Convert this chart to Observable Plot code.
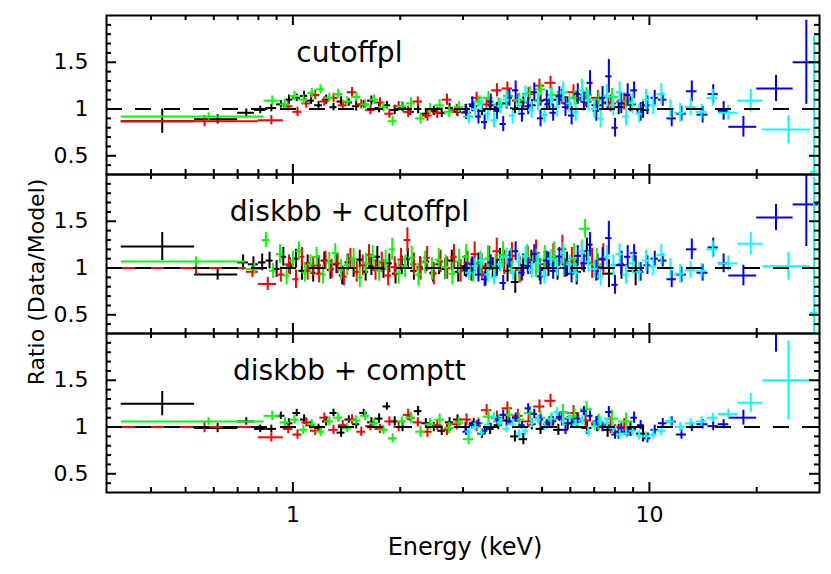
<!DOCTYPE html>
<html><head><meta charset="utf-8">
<script src="https://cdn.jsdelivr.net/npm/d3@7"></script>
<script src="https://cdn.jsdelivr.net/npm/@observablehq/plot@0.6"></script>
<style>
html,body{margin:0;padding:0;background:#fff;}
</style></head><body><div id="chart"></div>
<script>
// ---------- Panels and ticks ----------
const panels = ["cutoffpl", "diskbb + cutoffpl", "diskbb + comptt"];
const xTickLabels = [1, 10];
const xMinorTicks = [0.4, 0.5, 0.6, 0.7, 0.8, 0.9, 2, 3, 4, 5, 6, 7, 8, 9, 20];
const yTickLabels = [0.5, 1, 1.5];
const yMinorTicks = [0.4, 0.6, 0.7, 0.8, 0.9, 1.1, 1.2, 1.3, 1.4, 1.6, 1.7, 1.8, 1.9];

// ---------- Black (EPIC-pn) ----------
const blackEdgesA = [0.33, 0.53, 0.70, 0.78, 0.84, 0.90, 0.95, 1.00, 1.05, 1.10, 1.15, 1.21, 1.27, 1.33, 1.40, 1.47, 1.54, 1.62, 1.70, 1.79, 1.88, 1.98, 2.08, 2.19, 2.30, 2.42, 2.55, 2.68, 2.82, 2.97, 3.13, 3.30, 3.48, 3.67, 3.87, 4.08, 4.31, 4.55, 4.81, 5.09, 5.39, 5.72, 6.08, 6.47, 6.90, 7.37, 7.90, 8.50, 9.20, 10.0];
const blackR1 = [0.87, 0.89, 0.96, 0.99, 1.01, 1.05, 1.10, 1.12, 1.14, 1.09,
  1.04, 1.10, 1.02, 1.08, 1.07, 1.03, 1.05, 1.09, 1.01, 1.04,
  0.99, 1.02, 0.97, 1.00, 0.95, 0.98, 0.96, 1.01, 0.97, 1.00,
  1.03, 0.98, 1.04, 1.02, 1.06, 1.01, 1.07, 1.04, 1.09, 1.05,
  1.10, 1.06, 1.12, 1.08, 1.04, 1.07, 1.02, 1.05, 0.99];
const blackR3 = [1.25, 0.99, 1.06, 0.98, 0.98, 1.12, 1.04, 1.15, 1.08, 1.02,
  0.99, 1.06, 1.15, 0.94, 1.08, 1.03, 1.15, 1.05, 1.09, 1.22,
  1.06, 1.00, 1.10, 1.17, 1.04, 1.00, 0.96, 1.05, 1.08, 1.00,
  1.04, 0.93, 0.98, 1.02, 1.07, 0.90, 0.87, 1.03, 0.98, 1.05,
  0.97, 1.04, 1.06, 0.99, 1.02, 0.97, 0.95, 0.98, 0.93];
const blackErrA = [0.13, 0.05, 0.04, 0.04, 0.04, 0.04, 0.05, 0.04, 0.05, 0.04,
  0.04, 0.05, 0.04, 0.05, 0.04, 0.05, 0.04, 0.05, 0.05, 0.04,
  0.05, 0.05, 0.04, 0.05, 0.05, 0.05, 0.05, 0.05, 0.05, 0.05,
  0.05, 0.05, 0.06, 0.05, 0.06, 0.06, 0.06, 0.06, 0.06, 0.06,
  0.06, 0.07, 0.07, 0.07, 0.07, 0.08, 0.08, 0.08, 0.09];
const blackEdgesB = [0.33, 0.53, 0.70, 0.75, 0.80, 0.84, 0.88, 0.92, 0.96, 1.00, 1.04, 1.08, 1.12, 1.16, 1.20, 1.25, 1.30, 1.35, 1.40, 1.45, 1.51, 1.57, 1.63, 1.69, 1.76, 1.83, 1.90, 1.98, 2.06, 2.14, 2.23, 2.32, 2.42, 2.52, 2.62, 2.73, 2.85, 2.97, 3.10, 3.24, 3.39, 3.55, 3.72, 3.90, 4.10, 4.31, 4.54, 4.79, 5.06, 5.36, 5.69, 6.05, 6.45, 6.90, 7.40, 8.00, 8.70, 9.60];
const blackR2 = [1.23, 0.93, 1.06, 1.04, 1.06, 1.08, 0.99, 1.12, 1.02, 1.10,
  0.97, 1.05, 0.95, 1.03, 1.08, 0.98, 1.04, 0.92, 1.06, 1.00,
  1.09, 0.96, 1.02, 1.12, 0.99, 1.05, 0.94, 1.03, 1.10, 0.97,
  1.01, 1.07, 0.95, 1.04, 0.99, 1.08, 0.96, 1.02, 0.98, 1.05,
  0.93, 1.00, 1.09, 0.97, 0.85, 1.03, 1.06, 0.98, 1.04, 1.00,
  1.04, 0.96, 1.18, 1.01, 0.94, 1.03, 0.97];
const blackErrB = [0.15, 0.06, 0.08, 0.08, 0.09, 0.09, 0.09, 0.10, 0.09, 0.10,
  0.10, 0.09, 0.10, 0.10, 0.09, 0.10, 0.10, 0.10, 0.09, 0.10,
  0.10, 0.10, 0.10, 0.11, 0.10, 0.10, 0.11, 0.10, 0.11, 0.10,
  0.11, 0.11, 0.10, 0.11, 0.11, 0.11, 0.11, 0.11, 0.12, 0.11,
  0.12, 0.11, 0.12, 0.12, 0.12, 0.12, 0.13, 0.12, 0.13, 0.13,
  0.13, 0.14, 0.14, 0.14, 0.15, 0.15, 0.16];

// ---------- Red (MOS1) ----------
const redEdgesA = [0.33, 0.80, 0.94, 1.00, 1.06, 1.12, 1.19, 1.26, 1.34, 1.42, 1.51, 1.60, 1.70, 1.81, 1.92, 2.04, 2.17, 2.31, 2.46, 2.62, 2.79, 2.97, 3.17, 3.38, 3.61, 3.86, 4.13, 4.42, 4.74, 5.09, 5.47, 5.89, 6.36, 6.88, 7.46, 8.10, 8.90];
const redR1 = [0.87, 0.88, 1.03, 0.97, 1.06, 1.15, 1.08, 1.12, 1.04, 1.18,
  1.05, 0.99, 1.07, 0.95, 1.03, 0.97, 1.08, 0.93, 0.96, 1.10,
  0.99, 0.96, 1.12, 1.05, 1.20, 1.22, 1.09, 1.16, 1.25, 1.28,
  1.13, 1.18, 1.10, 1.12, 1.06, 1.08];
const redR3 = [1.00, 0.89, 0.98, 0.92, 1.05, 0.96, 1.10, 0.97, 1.02, 1.08,
  0.95, 1.01, 0.98, 1.06, 1.00, 1.13, 1.05, 0.95, 1.02, 0.97,
  1.03, 1.08, 1.01, 1.18, 1.10, 1.20, 1.12, 1.06, 1.22, 1.28,
  1.09, 1.15, 1.07, 1.04, 1.02, 1.00];
const redErrA = [0.06, 0.05, 0.05, 0.05, 0.05, 0.05, 0.05, 0.05, 0.05, 0.05,
  0.05, 0.05, 0.05, 0.05, 0.05, 0.06, 0.05, 0.06, 0.06, 0.06,
  0.06, 0.06, 0.06, 0.06, 0.07, 0.07, 0.07, 0.07, 0.07, 0.07,
  0.08, 0.08, 0.08, 0.08, 0.09, 0.09];
const redEdgesB = [0.33, 0.74, 0.80, 0.90, 0.95, 1.00, 1.04, 1.08, 1.12, 1.16, 1.21, 1.26, 1.31, 1.36, 1.42, 1.48, 1.54, 1.60, 1.67, 1.74, 1.81, 1.89, 1.97, 2.05, 2.14, 2.23, 2.33, 2.43, 2.54, 2.65, 2.77, 2.89, 3.02, 3.16, 3.31, 3.47, 3.64, 3.82, 4.01, 4.22, 4.44, 4.68, 4.94, 5.22, 5.53, 5.87, 6.25, 6.67, 7.15, 7.70];
const redR2 = [1.00, 0.96, 0.83, 0.93, 1.04, 0.88, 1.12, 0.97, 1.02, 0.94,
  1.08, 0.99, 1.05, 0.91, 1.10, 0.96, 1.03, 1.14, 0.98, 1.06,
  0.92, 1.01, 1.09, 1.30, 1.04, 0.99, 1.11, 0.94, 1.07, 1.00,
  1.12, 0.97, 1.05, 1.15, 1.02, 1.10, 1.18, 1.06, 1.13, 0.98,
  1.09, 1.16, 1.04, 1.11, 1.20, 1.07, 1.13, 1.05, 1.09];
const redErrB = [0.07, 0.06, 0.07, 0.08, 0.10, 0.10, 0.10, 0.10, 0.10, 0.10,
  0.10, 0.10, 0.11, 0.10, 0.11, 0.11, 0.11, 0.11, 0.11, 0.11,
  0.11, 0.11, 0.12, 0.13, 0.12, 0.12, 0.12, 0.12, 0.12, 0.12,
  0.13, 0.12, 0.13, 0.13, 0.13, 0.13, 0.14, 0.13, 0.14, 0.14,
  0.14, 0.14, 0.14, 0.15, 0.15, 0.15, 0.16, 0.16, 0.17];

// ---------- Green (MOS2) ----------
const greenEdgesA = [0.33, 0.83, 0.92, 0.98, 1.04, 1.10, 1.16, 1.23, 1.30, 1.38, 1.46, 1.55, 1.64, 1.74, 1.85, 1.96, 2.08, 2.21, 2.35, 2.50, 2.66, 2.83, 3.01, 3.21, 3.42, 3.65, 3.90, 4.17, 4.46, 4.78, 5.13, 5.51, 5.93, 6.40, 6.92, 7.50, 8.20, 9.00];
const greenR1 = [0.92, 1.09, 1.05, 1.14, 1.10, 1.17, 1.21, 1.12, 1.16, 1.08,
  1.13, 1.05, 1.10, 1.02, 0.87, 1.03, 1.06, 0.90, 1.00, 1.04,
  0.97, 1.02, 0.92, 1.08, 1.12, 1.05, 1.14, 1.10, 1.17, 1.21,
  1.15, 1.18, 1.12, 1.15, 1.10, 1.13, 1.08];
const greenR3 = [1.06, 1.12, 1.05, 1.08, 0.97, 1.03, 0.95, 1.06, 1.10, 0.99,
  1.07, 1.12, 1.04, 0.97, 0.88, 1.06, 1.10, 0.95, 1.03, 1.08,
  0.99, 1.05, 0.87, 1.04, 1.11, 1.06, 1.13, 1.08, 1.15, 1.10,
  1.07, 1.16, 1.12, 1.19, 1.05, 1.09, 1.06];
const greenErrA = [0.04, 0.05, 0.05, 0.05, 0.05, 0.05, 0.05, 0.05, 0.05, 0.05,
  0.05, 0.05, 0.05, 0.05, 0.05, 0.05, 0.06, 0.06, 0.06, 0.06,
  0.06, 0.06, 0.06, 0.06, 0.07, 0.07, 0.07, 0.07, 0.07, 0.07,
  0.08, 0.08, 0.08, 0.08, 0.09, 0.09, 0.09];
const greenEdgesB = [0.33, 0.74, 0.82, 0.86, 0.90, 0.94, 0.98, 1.02, 1.06, 1.10, 1.14, 1.19, 1.24, 1.29, 1.34, 1.39, 1.45, 1.51, 1.57, 1.64, 1.71, 1.78, 1.86, 1.94, 2.02, 2.11, 2.20, 2.30, 2.40, 2.51, 2.62, 2.74, 2.86, 2.99, 3.13, 3.28, 3.44, 3.61, 3.79, 3.98, 4.19, 4.42, 4.67, 4.94, 5.24, 5.57, 5.94, 6.36, 6.84, 7.40];
const greenR2 = [1.07, 0.99, 1.30, 0.97, 1.15, 0.92, 1.08, 1.18, 0.95, 1.04,
  1.12, 0.93, 1.06, 1.16, 0.98, 1.03, 1.10, 0.90, 1.05, 1.13,
  0.97, 1.08, 1.20, 0.95, 1.02, 1.11, 0.93, 1.06, 0.99, 1.09,
  1.01, 0.94, 1.07, 1.12, 0.98, 1.05, 1.10, 1.02, 1.14, 1.07,
  1.00, 1.11, 1.05, 1.09, 1.13, 1.06, 1.10, 1.42, 1.04];
const greenErrB = [0.05, 0.06, 0.08, 0.08, 0.10, 0.10, 0.10, 0.10, 0.10, 0.10,
  0.10, 0.10, 0.11, 0.10, 0.11, 0.11, 0.11, 0.11, 0.11, 0.11,
  0.11, 0.11, 0.12, 0.12, 0.12, 0.12, 0.12, 0.12, 0.12, 0.12,
  0.13, 0.12, 0.13, 0.13, 0.13, 0.13, 0.14, 0.13, 0.14, 0.14,
  0.14, 0.14, 0.15, 0.15, 0.15, 0.16, 0.16, 0.10, 0.17];

// ---------- Blue (FPMA) ----------
const blueEdges = [3.00, 3.12, 3.25, 3.38, 3.52, 3.66, 3.81, 3.97, 4.13, 4.30, 4.48, 4.66, 4.85, 5.05, 5.26, 5.48, 5.70, 5.93, 6.17, 6.42, 6.68, 6.95, 7.24, 7.54, 7.85, 8.17, 8.51, 8.87, 9.25, 9.65, 10.1, 10.6, 11.2, 11.9, 12.7, 13.6, 14.6, 15.6, 16.7, 20.0, 25.3, 29.8];
const blueR1 = [0.97, 1.05, 0.92, 0.86, 1.08, 0.98, 0.84, 1.12, 1.20, 0.95,
  1.03, 1.18, 0.90, 1.10, 0.96, 1.14, 1.02, 0.93, 1.16, 1.08,
  1.28, 0.98, 1.12, 1.35, 0.80, 1.06, 1.15, 1.20, 0.97, 1.04,
  1.12, 1.10, 0.90, 0.95, 1.19, 0.94, 1.16, 0.98, 0.81, 1.22,
  1.50];
const blueR2 = [0.98, 1.04, 0.93, 0.88, 1.06, 1.00, 0.84, 1.09, 1.18, 0.95,
  1.02, 1.15, 0.91, 1.08, 0.97, 1.12, 1.00, 0.94, 1.13, 1.05,
  1.25, 0.97, 1.10, 1.32, 0.82, 1.04, 1.12, 1.16, 0.96, 1.03,
  1.10, 1.08, 0.88, 0.93, 1.20, 0.95, 1.22, 1.05, 0.92, 1.54,
  1.68];
const blueR3 = [0.95, 1.02, 1.04, 0.96, 1.00, 1.08, 1.13, 1.06, 1.10, 1.02,
  1.20, 1.14, 1.08, 1.03, 1.06, 1.11, 0.97, 1.04, 1.09, 1.17,
  1.12, 1.06, 1.00, 1.16, 0.92, 0.99, 0.95, 1.10, 1.02, 0.88,
  0.97, 1.04, 1.06, 0.92, 1.00, 1.03, 1.01, 1.03, 1.10, 2.60,
  null];
const blueErr12 = [0.08, 0.08, 0.08, 0.08, 0.08, 0.09, 0.08, 0.09, 0.10, 0.09,
  0.09, 0.10, 0.09, 0.10, 0.09, 0.10, 0.10, 0.10, 0.11, 0.10,
  0.13, 0.11, 0.12, 0.18, 0.10, 0.11, 0.12, 0.09, 0.10, 0.10,
  0.08, 0.07, 0.09, 0.08, 0.11, 0.09, 0.10, 0.10, 0.11, 0.14,
  0.45];
const blueErr3 = [0.04, 0.04, 0.04, 0.04, 0.04, 0.04, 0.05, 0.04, 0.05, 0.04,
  0.05, 0.05, 0.05, 0.05, 0.05, 0.05, 0.05, 0.05, 0.05, 0.05,
  0.05, 0.05, 0.05, 0.06, 0.05, 0.05, 0.05, 0.06, 0.05, 0.05,
  0.05, 0.05, 0.05, 0.05, 0.05, 0.05, 0.05, 0.05, 0.08, 0.80,
  0.80];

// ---------- Cyan (FPMB) ----------
const cyanEdges = [3.05, 3.18, 3.31, 3.45, 3.59, 3.74, 3.89, 4.05, 4.22, 4.40, 4.58, 4.77, 4.97, 5.18, 5.40, 5.62, 5.85, 6.09, 6.34, 6.60, 6.87, 7.15, 7.45, 7.76, 8.08, 8.42, 8.78, 9.16, 9.56, 10.0, 10.5, 11.1, 11.8, 12.6, 13.5, 14.5, 15.6, 17.7, 20.8, 28.3, 29.6];
const cyanR1 = [0.92, 1.00, 1.06, 0.95, 0.88, 1.03, 1.10, 0.93, 1.05, 1.15,
  0.99, 1.08, 0.94, 1.12, 1.02, 1.18, 1.06, 0.97, 1.20, 1.09,
  1.00, 0.90, 1.14, 1.04, 1.18, 0.92, 1.06, 0.95, 1.10, 1.04,
  1.16, 1.00, 0.96, 1.02, 0.97, 1.12, 0.96, 1.09, 0.78, 0.33];
const cyanR2 = [0.95, 1.02, 1.08, 0.93, 0.90, 1.04, 1.12, 0.96, 1.07, 1.13,
  0.98, 1.05, 0.92, 1.10, 1.01, 1.16, 1.04, 0.95, 1.18, 1.07,
  0.99, 0.91, 1.12, 1.03, 1.15, 0.93, 1.05, 0.96, 1.08, 1.02,
  1.14, 1.00, 0.94, 0.98, 0.97, 1.20, 1.05, 1.26, 1.02, 0.52];
const cyanR3 = [0.95, 1.00, 0.94, 1.02, 1.11, 1.05, 0.98, 1.03, 0.93, 0.96,
  1.04, 1.08, 1.01, 1.09, 1.16, 1.06, 1.10, 1.03, 1.07, 0.95,
  1.01, 1.06, 1.04, 0.99, 0.92, 0.93, 0.96, 0.91, 0.90, 0.92,
  0.96, 1.06, 1.00, 1.04, 1.06, 1.10, 1.14, 1.26, 1.50, null];
const cyanErr12 = [0.08, 0.08, 0.08, 0.08, 0.08, 0.08, 0.09, 0.09, 0.09, 0.10,
  0.09, 0.10, 0.09, 0.10, 0.10, 0.11, 0.10, 0.10, 0.12, 0.11,
  0.10, 0.10, 0.12, 0.11, 0.11, 0.10, 0.11, 0.10, 0.11, 0.10,
  0.11, 0.10, 0.10, 0.09, 0.08, 0.09, 0.08, 0.12, 0.15, 1.45];
const cyanErr3 = [0.04, 0.04, 0.04, 0.04, 0.05, 0.04, 0.04, 0.05, 0.04, 0.05,
  0.05, 0.05, 0.05, 0.05, 0.05, 0.05, 0.05, 0.05, 0.05, 0.05,
  0.05, 0.05, 0.05, 0.05, 0.05, 0.05, 0.05, 0.05, 0.05, 0.05,
  0.05, 0.05, 0.05, 0.05, 0.05, 0.05, 0.05, 0.10, 0.42, 0.40];

// ---------- Build rows ----------
function makeRows(panel, edges, ratio, err) {
  const rows = [];
  ratio.forEach((r, i) => {
    if (r == null) return;
    const lo = edges[i], hi = edges[i + 1];
    rows.push({panel, lo, hi, e: (lo + hi) / 2, r, err: err[i]});
  });
  return rows;
}
const series = [
  {color: "#000000", rows: [
    ...makeRows(panels[0], blackEdgesA, blackR1, blackErrA),
    ...makeRows(panels[1], blackEdgesB, blackR2, blackErrB),
    ...makeRows(panels[2], blackEdgesA, blackR3, blackErrA)]},
  {color: "#ff0000", rows: [
    ...makeRows(panels[0], redEdgesA, redR1, redErrA),
    ...makeRows(panels[1], redEdgesB, redR2, redErrB),
    ...makeRows(panels[2], redEdgesA, redR3, redErrA)]},
  {color: "#00ff00", rows: [
    ...makeRows(panels[0], greenEdgesA, greenR1, greenErrA),
    ...makeRows(panels[1], greenEdgesB, greenR2, greenErrB),
    ...makeRows(panels[2], greenEdgesA, greenR3, greenErrA)]},
  {color: "#0000ff", rows: [
    ...makeRows(panels[0], blueEdges, blueR1, blueErr12),
    ...makeRows(panels[1], blueEdges, blueR2, blueErr12),
    ...makeRows(panels[2], blueEdges, blueR3, blueErr3)]},
  {color: "#00ffff", rows: [
    ...makeRows(panels[0], cyanEdges, cyanR1, cyanErr12),
    ...makeRows(panels[1], cyanEdges, cyanR2, cyanErr12),
    ...makeRows(panels[2], cyanEdges, cyanR3, cyanErr3)]}
];

// ---------- Layout ----------
const W = 831, H = 574, mT = 15, mB = 82, mL = 106, mR = 12;
const frameH = (H - mT - mB) / panels.length;
const frameW = W - mL - mR;
const majorLen = 10, minorLen = 5;

const marks = [];
for (const s of series) {
  marks.push(Plot.ruleY(s.rows, {fy: "panel", y: "r", x1: "lo", x2: "hi", stroke: s.color, strokeWidth: 2, clip: true}));
  marks.push(Plot.ruleX(s.rows, {fy: "panel", x: "e", y1: d => d.r - d.err, y2: d => d.r + d.err, stroke: s.color, strokeWidth: 2, clip: true}));
}
marks.push(Plot.ruleY([1], {y: d => d, stroke: "#000", strokeWidth: 2, strokeDasharray: "16,13"}));
// inside ticks: bottom / top / left / right
marks.push(Plot.tickX(xTickLabels, {x: d => d, insetTop: frameH - majorLen, strokeWidth: 2}));
marks.push(Plot.tickX(xTickLabels, {x: d => d, insetBottom: frameH - majorLen, strokeWidth: 2}));
marks.push(Plot.tickX(xMinorTicks, {x: d => d, insetTop: frameH - minorLen, strokeWidth: 2}));
marks.push(Plot.tickX(xMinorTicks, {x: d => d, insetBottom: frameH - minorLen, strokeWidth: 2}));
marks.push(Plot.tickY(yTickLabels, {y: d => d, insetRight: frameW - majorLen, strokeWidth: 2}));
marks.push(Plot.tickY(yTickLabels, {y: d => d, insetLeft: frameW - majorLen, strokeWidth: 2}));
marks.push(Plot.tickY(yMinorTicks, {y: d => d, insetRight: frameW - minorLen, strokeWidth: 2}));
marks.push(Plot.tickY(yMinorTicks, {y: d => d, insetLeft: frameW - minorLen, strokeWidth: 2}));
marks.push(Plot.frame({stroke: "#000", strokeWidth: 2}));
marks.push(Plot.text(panels, {fy: d => d, x: () => 1.44, y: () => 1.5, text: d => d, fontSize: 28, lineAnchor: "bottom", textAnchor: "middle", fill: "#000"}));

const chart = Plot.plot({
  width: W, height: H,
  marginTop: mT, marginBottom: mB, marginLeft: mL, marginRight: mR,
  style: {fontFamily: "DejaVu Sans", fontSize: "22px", background: "#fff", color: "#000"},
  x: {type: "log", domain: [0.3, 30], ticks: xTickLabels, tickFormat: d => String(d), tickSize: 0, tickPadding: 14, label: null},
  y: {domain: [0.3, 2.0], ticks: yTickLabels, tickFormat: d => String(d), tickSize: 0, tickPadding: 18, label: null},
  fy: {domain: panels, padding: 0, axis: null, label: null},
  marks
});

const svg = d3.select(chart);
svg.append("text")
  .attr("transform", "translate(44,282) rotate(-90)")
  .attr("text-anchor", "middle")
  .attr("font-size", 22)
  .attr("fill", "#000")
  .text("Ratio (Data/Model)");
svg.append("text")
  .attr("x", 465).attr("y", 555)
  .attr("text-anchor", "middle")
  .attr("font-size", 24)
  .attr("fill", "#000")
  .text("Energy (keV)");

document.getElementById("chart").appendChild(chart);
</script>
</body></html>
